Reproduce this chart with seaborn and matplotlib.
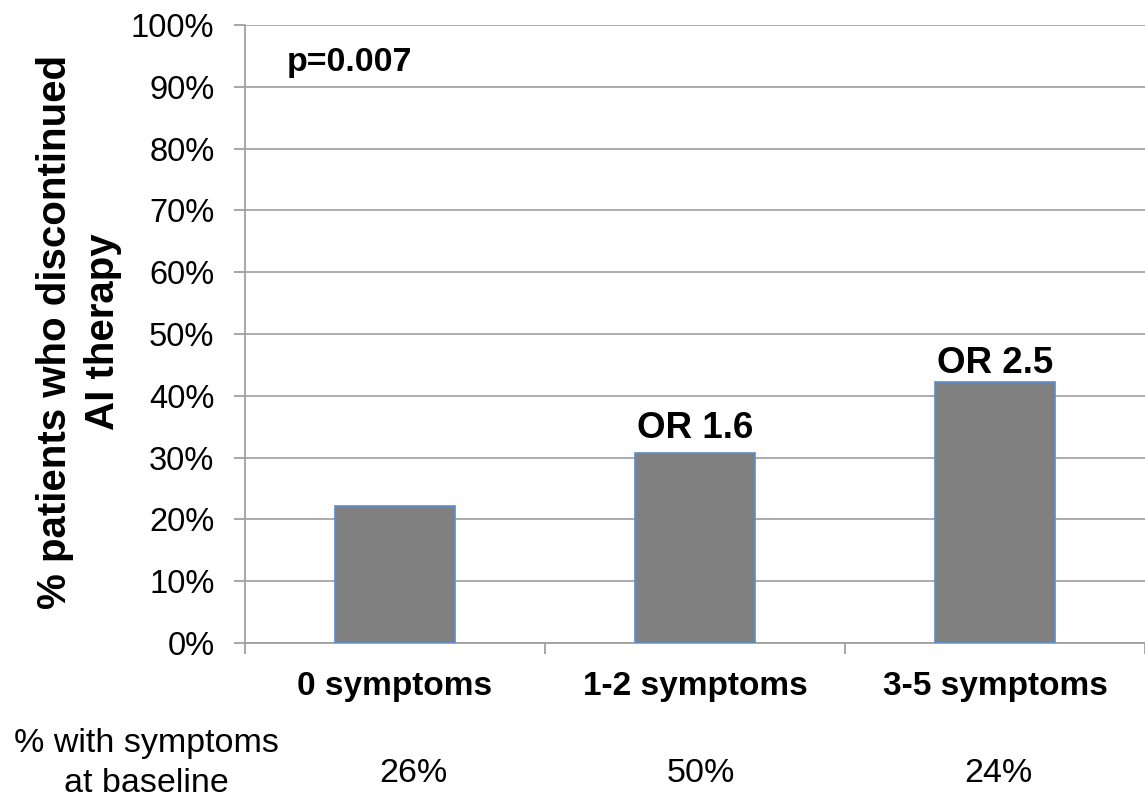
import matplotlib
matplotlib.use("Agg")
import matplotlib.pyplot as plt
import matplotlib.transforms as mtransforms
import seaborn as sns
from matplotlib.ticker import FixedLocator

categories = ["0 symptoms", "1-2 symptoms", "3-5 symptoms"]
discontinued_pct = [22.2, 30.7, 42.2]
or_labels = ["", "OR 1.6", "OR 2.5"]
baseline_pct = ["26%", "50%", "24%"]
yticks = list(range(0, 101, 10))
p_text = "p=0.007"

sns.set_theme(style="white")
plt.rcParams["font.family"] = ["Liberation Sans", "DejaVu Sans"]

W, H = 1145, 800
fig = plt.figure(figsize=(W / 100, H / 100), dpi=100)
ax = fig.add_axes([245 / W, 1 - 643 / H, (W - 245) / W, (643 - 25) / H])

sns.barplot(x=categories, y=discontinued_pct, color="#808080", saturation=1,
            width=0.4, edgecolor="#5B8BD0", linewidth=1.2, ax=ax, zorder=3)

ax.set_ylim(0, 100)
ax.set_xlim(-0.5, 2.5)
ax.set_yticks(yticks)
ax.set_yticklabels([f"{v}%" for v in yticks], fontsize=23.5, color="black")
ax.yaxis.grid(True, color="#A6A6A6", lw=1.3, zorder=0)
ax.xaxis.grid(False)
ax.set_axisbelow(True)

for s in ["top", "right"]:
    ax.spines[s].set_visible(False)
for s in ["left", "bottom"]:
    ax.spines[s].set_color("#A0A0A0")
    ax.spines[s].set_linewidth(1.3)

ax.tick_params(axis="y", which="major", length=8, width=1.3, color="#A0A0A0",
               left=True, pad=14)
ax.tick_params(axis="x", which="major", length=0, pad=20)
ax.set_xticklabels(categories, fontsize=24, fontweight="bold", color="black")
ax.xaxis.set_minor_locator(FixedLocator([-0.5, 0.5, 1.5, 2.5]))
ax.tick_params(axis="x", which="minor", length=8, width=1.3, color="#A0A0A0",
               bottom=True)
ax.set_xlabel("")
ax.set_ylabel("")

# OR annotations
or_offsets = [0, 11, 6.5]
for i, (lab, v) in enumerate(zip(or_labels, discontinued_pct)):
    if lab:
        ax.annotate(lab, (i, v), xytext=(0, or_offsets[i]), textcoords="offset points",
                    ha="center", va="baseline", fontsize=26.5, fontweight="bold",
                    color="black")

ax.text(-0.36, (643 - 71) / 6.18, p_text, ha="left", va="baseline", fontsize=24.5,
        fontweight="bold", color="black")

# y label
fig.text(79 / W, 1 - 332 / H, "% patients who discontinued\nAI therapy",
         rotation=90, ha="center", va="center", multialignment="center",
         fontsize=29, fontweight="bold", color="black", linespacing=1.3)

# baseline row
fig.text(146 / W, 1 - 752 / H, "% with symptoms", ha="center", va="baseline",
         fontsize=24.5, color="black")
fig.text(146 / W, 1 - 792 / H, "at baseline", ha="center", va="baseline",
         fontsize=24.5, color="black")
base_dx = [0.06, 0.02, 0.01]
tr = mtransforms.blended_transform_factory(ax.transData, fig.transFigure)
for i, t in enumerate(baseline_pct):
    ax.text(i + base_dx[i], 1 - 782 / H, t, transform=tr, ha="center",
            va="baseline", fontsize=24.5, color="black")

fig.savefig("out.png", dpi=100)
